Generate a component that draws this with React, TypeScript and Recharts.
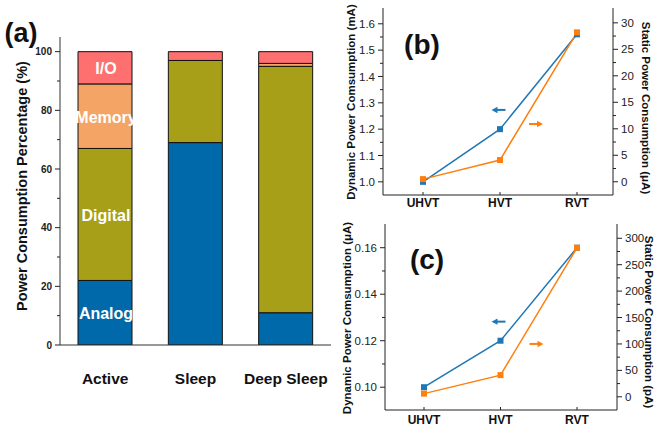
import { BarChart, Bar, LineChart, Line, XAxis, YAxis, ReferenceDot, LabelList } from "recharts"

const FONT = '"Liberation Sans", Arial, Helvetica, sans-serif'

// (a) power breakdown per mode, %
const modes = ["Active", "Sleep", "Deep Sleep"]
const analog = [22, 69, 11]
const digital = [45, 28, 84]
const memory = [22, 0, 1]
const io = [11, 3, 4]
const segNames = ["Analog", "Digital", "Memory", "I/O"]
const pctTicks = [0, 10, 20, 30, 40, 50, 60, 70, 80, 90, 100]

// (b) and (c) vs threshold flavour
const vts = ["UHVT", "HVT", "RVT"]
const bDynamic = [1.0, 1.2, 1.56] // mA
const bStatic = [0.5, 4.1, 28.2] // µA
const cDynamic = [0.1, 0.12, 0.16] // µA
const cStatic = [6, 41, 282] // pA

const bLeftTicks = [1.0, 1.05, 1.1, 1.15, 1.2, 1.25, 1.3, 1.35, 1.4, 1.45, 1.5, 1.55, 1.6]
const bRightTicks = [0, 2.5, 5, 7.5, 10, 12.5, 15, 17.5, 20, 22.5, 25, 27.5, 30]
const cLeftTicks = [0.1, 0.11, 0.12, 0.13, 0.14, 0.15, 0.16]
const cRightTicks = [0, 25, 50, 75, 100, 125, 150, 175, 200, 225, 250, 275, 300]

const BLUE = "#1f77b4"
const ORANGE = "#ff7f0e"

const barData = modes.map((m, i) => ({ mode: m, analog: analog[i], digital: digital[i], memory: memory[i], io: io[i] }))
const bData = vts.map((v, i) => ({ vt: v, dyn: bDynamic[i], stat: bStatic[i] }))
const cData = vts.map((v, i) => ({ vt: v, dyn: cDynamic[i], stat: cStatic[i] }))

// y tick with minor marks: label only the majors
const yTick =
  (side: "left" | "right", isMajor: (v: number) => boolean, fmt: (v: number) => string, fs: number, bold: boolean) =>
  (p: any) => {
    const v = p.payload.value
    const major = isMajor(v)
    const len = major ? 5 : 3
    const dir = side === "left" ? -1 : 1
    return (
      <g>
        <line x1={p.x} x2={p.x + dir * len} y1={p.y} y2={p.y} stroke="#222" strokeWidth={1} />
        {major && (
          <text
            x={p.x + dir * (len + 3)}
            y={p.y}
            dy="0.35em"
            textAnchor={side === "left" ? "end" : "start"}
            fontSize={fs}
            fontWeight={bold ? "bold" : "normal"}
            fontFamily={FONT}
            fill="#222"
          >
            {fmt(v)}
          </text>
        )}
      </g>
    )
  }

const modeTick = (p: any) => (
  <text x={p.x} y={p.y} dy={39} textAnchor="middle" fontSize={15.5} fontWeight="bold" fontFamily={FONT} fill="#111">
    {p.payload.value}
  </text>
)

const vtTick = (dy: number) => (p: any) => (
  <g>
    <line x1={p.x} x2={p.x} y1={p.y} y2={p.y - 3} stroke="#222" />
    <text x={p.x} y={p.y} dy={dy} textAnchor="middle" fontSize={12} fontWeight="bold" fontFamily={FONT} fill="#111">
      {p.payload.value}
    </text>
  </g>
)

const segLabel = (name: string) => (p: any) =>
  p.index === 0 ? (
    <text
      x={p.x + p.width / 2 + 1}
      y={p.y + p.height / 2 + 1}
      dy="0.35em"
      textAnchor="middle"
      fontSize={16}
      fontWeight="bold"
      fontFamily={FONT}
      fill="#fff"
    >
      {name}
    </text>
  ) : null

const square = (color: string) => (p: any) =>
  <rect key={p.index} x={p.cx - 3} y={p.cy - 3} width={6} height={6} fill={color} />

const arrow = (dir: 1 | -1, color: string, shift: number) => (p: any) => {
  const cx = p.cx + shift
  const cy = p.cy
  const tip = cx + dir * 7
  const tail = cx - dir * 7
  return (
    <g>
      <line x1={tail} y1={cy} x2={tip - dir * 5} y2={cy} stroke={color} strokeWidth={2} />
      <polygon points={`${tip},${cy} ${tip - dir * 6},${cy - 3.2} ${tip - dir * 6},${cy + 3.2}`} fill={color} />
    </g>
  )
}

function Title({ text, cx, cy, rot, fs }: { text: string; cx: number; cy: number; rot: number; fs: number }) {
  return (
    <div
      style={{
        position: "absolute",
        left: cx,
        top: cy,
        transform: `translate(-50%, -50%) rotate(${rot}deg)`,
        whiteSpace: "nowrap",
        fontSize: fs,
        fontWeight: "bold",
        lineHeight: 1,
        color: "#111",
      }}
    >
      {text}
    </div>
  )
}

export default function App() {
  return (
    <div style={{ position: "absolute", left: 0, top: 0, width: 655, height: 429, background: "#fff", fontFamily: FONT, overflow: "hidden" }}>
      {/* (a) */}
      <div style={{ position: "absolute", left: 0, top: 0 }}>
        <BarChart width={340} height={429} data={barData} margin={{ top: 37, right: 9, bottom: 0, left: 0 }} barCategoryGap="20%">
          <XAxis dataKey="mode" height={84} tickSize={0} tickMargin={0} stroke="#333" tick={modeTick} interval={0} />
          <XAxis xAxisId="top" dataKey="mode" orientation="top" height={0} tick={false} tickLine={false} stroke="#333" />
          <YAxis
            domain={[0, 105]}
            allowDataOverflow
            ticks={pctTicks}
            interval={0}
            width={60}
            tickSize={0}
            tickMargin={0}
            stroke="#333"
            tick={yTick("left", (v) => v % 20 === 0, (v) => String(v), 10, true)}
          />
          <YAxis yAxisId="r" orientation="right" domain={[0, 105]} width={0} tick={false} tickLine={false} stroke="#333" />
          <Bar dataKey="analog" stackId="s" fill="#0069aa" stroke="#111" strokeWidth={1} barSize={54} isAnimationActive={false}>
            <LabelList content={segLabel(segNames[0])} />
          </Bar>
          <Bar dataKey="digital" stackId="s" fill="#a69f17" stroke="#111" strokeWidth={1} barSize={54} isAnimationActive={false}>
            <LabelList content={segLabel(segNames[1])} />
          </Bar>
          <Bar dataKey="memory" stackId="s" fill="#f4a566" stroke="#111" strokeWidth={1} barSize={54} isAnimationActive={false}>
            <LabelList content={segLabel(segNames[2])} />
          </Bar>
          <Bar dataKey="io" stackId="s" fill="#fe7070" stroke="#111" strokeWidth={1} barSize={54} isAnimationActive={false}>
            <LabelList content={segLabel(segNames[3])} />
          </Bar>
        </BarChart>
      </div>

      {/* (b) */}
      <div style={{ position: "absolute", left: 330, top: 0 }}>
        <LineChart width={325} height={215} data={bData} margin={{ top: 8, right: 0, bottom: 0, left: 0 }}>
          <XAxis dataKey="vt" height={20} padding={{ left: 40, right: 36 }} tickSize={0} tickMargin={0} stroke="#222" tick={vtTick(12)} interval={0} />
          <XAxis xAxisId="top" dataKey="vt" orientation="top" height={0} padding={{ left: 40, right: 36 }} tick={false} tickLine={false} stroke="#222" />
          <YAxis
            yAxisId="left"
            domain={[0.95, 1.66]}
            allowDataOverflow
            ticks={bLeftTicks}
            interval={0}
            width={53}
            tickSize={0}
            tickMargin={0}
            stroke="#222"
            tick={yTick("left", (v) => Math.round(v * 100) % 10 === 0, (v) => v.toFixed(1), 11.5, false)}
          />
          <YAxis
            yAxisId="right"
            orientation="right"
            domain={[-2.5, 32.8]}
            allowDataOverflow
            ticks={bRightTicks}
            interval={0}
            width={42}
            tickSize={0}
            tickMargin={0}
            stroke="#222"
            tick={yTick("right", (v) => v % 5 === 0, (v) => String(v), 11.5, false)}
          />
          <Line yAxisId="left" type="linear" dataKey="dyn" stroke={BLUE} strokeWidth={1.5} dot={square(BLUE)} isAnimationActive={false} />
          <Line yAxisId="right" type="linear" dataKey="stat" stroke={ORANGE} strokeWidth={1.5} dot={square(ORANGE)} isAnimationActive={false} />
          <ReferenceDot yAxisId="left" x="HVT" y={1.273} shape={arrow(-1, BLUE, -1.5)} />
          <ReferenceDot yAxisId="right" x="HVT" y={10.9} shape={arrow(1, ORANGE, 36)} />
        </LineChart>
      </div>

      {/* (c) */}
      <div style={{ position: "absolute", left: 330, top: 215 }}>
        <LineChart width={325} height={214} data={cData} margin={{ top: 9, right: 0, bottom: 0, left: 0 }}>
          <XAxis dataKey="vt" height={19} padding={{ left: 39, right: 40 }} tickSize={0} tickMargin={0} stroke="#222" tick={vtTick(14)} interval={0} />
          <XAxis xAxisId="top" dataKey="vt" orientation="top" height={0} padding={{ left: 39, right: 40 }} tick={false} tickLine={false} stroke="#222" />
          <YAxis
            yAxisId="left"
            domain={[0.0902, 0.1702]}
            allowDataOverflow
            ticks={cLeftTicks}
            interval={0}
            width={55}
            tickSize={0}
            tickMargin={0}
            stroke="#222"
            tick={yTick("left", (v) => Math.round(v * 1000) % 20 === 0, (v) => v.toFixed(2), 11.5, false)}
          />
          <YAxis
            yAxisId="right"
            orientation="right"
            domain={[-25, 327]}
            allowDataOverflow
            ticks={cRightTicks}
            interval={0}
            width={38}
            tickSize={0}
            tickMargin={0}
            stroke="#222"
            tick={yTick("right", (v) => v % 50 === 0, (v) => String(v), 11.5, false)}
          />
          <Line yAxisId="left" type="linear" dataKey="dyn" stroke={BLUE} strokeWidth={1.5} dot={square(BLUE)} isAnimationActive={false} />
          <Line yAxisId="right" type="linear" dataKey="stat" stroke={ORANGE} strokeWidth={1.5} dot={square(ORANGE)} isAnimationActive={false} />
          <ReferenceDot yAxisId="left" x="HVT" y={0.1282} shape={arrow(-1, BLUE, -2)} />
          <ReferenceDot yAxisId="right" x="HVT" y={100} shape={arrow(1, ORANGE, 36)} />
        </LineChart>
      </div>

      <Title text="Power Consumption Percentage (%)" cx={22} cy={186} rot={-90} fs={14.5} />
      <Title text="Dynamic Power Comsumption (mA)" cx={352} cy={102} rot={-90} fs={11.5} />
      <Title text="Static Power Consumption (μA)" cx={645} cy={108} rot={90} fs={11.5} />
      <Title text="Dynamic Power Comsumption (μA)" cx={348} cy={318} rot={-90} fs={11.5} />
      <Title text="Static Power Consumption (pA)" cx={648} cy={322} rot={90} fs={11.5} />

      <Title text="(a)" cx={21} cy={33} rot={0} fs={27} />
      <Title text="(b)" cx={422} cy={45} rot={0} fs={28} />
      <Title text="(c)" cx={427} cy={260} rot={0} fs={28} />
    </div>
  )
}
